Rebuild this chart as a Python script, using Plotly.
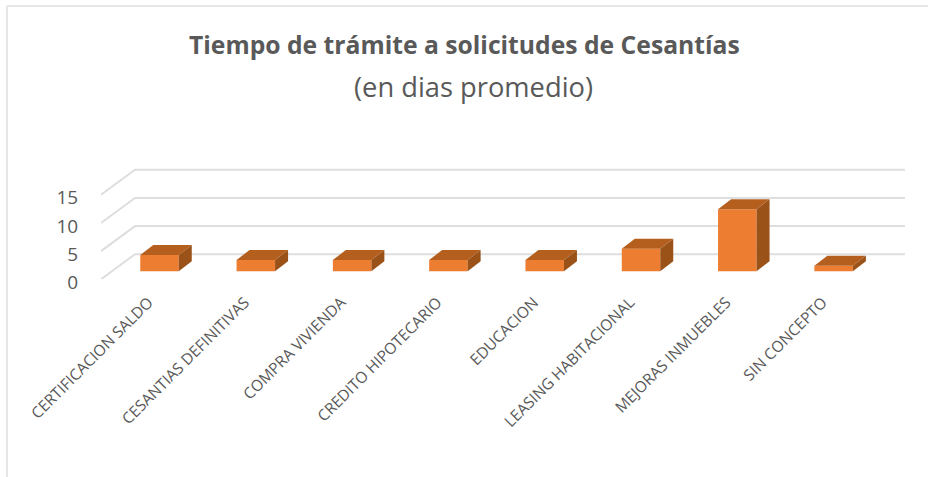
import plotly.graph_objects as go

categories = ["CERTIFICACION SALDO", "CESANTIAS DEFINITIVAS", "COMPRA VIVIENDA", "CREDITO HIPOTECARIO",
              "EDUCACION", "LEASING HABITACIONAL", "MEJORAS INMUEBLES", "SIN CONCEPTO"]
values = [2.9, 2, 2, 2, 2, 4, 11, 1]
y_ticks = [0, 5, 10, 15]

W, H = 928, 477
X0_PX, STEP_PX = 159.5, 96.3          # category 0 centre, category spacing
LEFT, RIGHT, BOTTOM, TOP = 101, 905, 279.3, 160
PX_PER_UNIT = 5.64
x_range = [(LEFT - X0_PX) / STEP_PX, (RIGHT - X0_PX) / STEP_PX]
y_range = [0, (BOTTOM - TOP) / PX_PER_UNIT]

BAR_W = 38.5 / STEP_PX
FLOOR_DX, FLOOR_DY = 34 / STEP_PX, 25 / PX_PER_UNIT   # oblique floor depth
BASE_DY = 8 / PX_PER_UNIT                              # bar base offset into floor
BAR_DX, BAR_DY = 13 / STEP_PX, 10 / PX_PER_UNIT        # bar depth

FRONT, TOPC, SIDE = "#ED7D31", "#B55F1E", "#9A5219"
GRID = "#DEDEDE"
TEXT = "#595959"
FONT = "Open Sans"

fig = go.Figure()

# front faces
fig.add_trace(go.Bar(x=list(range(len(values))), y=values, base=[BASE_DY] * len(values), width=BAR_W,
                     marker=dict(color=FRONT, line=dict(width=0)), hoverinfo="skip", showlegend=False))

# top and side faces
for i, v in enumerate(values):
    l, r = i - BAR_W / 2, i + BAR_W / 2
    b, t = BASE_DY, BASE_DY + v
    fig.add_trace(go.Scatter(x=[l, r, r + BAR_DX, l + BAR_DX, l], y=[t, t, t + BAR_DY, t + BAR_DY, t],
                             mode="lines", fill="toself", fillcolor=TOPC, line=dict(width=0),
                             hoverinfo="skip", showlegend=False))
    fig.add_trace(go.Scatter(x=[r, r + BAR_DX, r + BAR_DX, r, r], y=[b, b + BAR_DY, t + BAR_DY, t, b],
                             mode="lines", fill="toself", fillcolor=SIDE, line=dict(width=0),
                             hoverinfo="skip", showlegend=False))

# gridlines running along the floor side and back wall
shapes = []
for v in y_ticks:
    shapes.append(dict(type="path", xref="x", yref="y", layer="below",
                       path=f"M {x_range[0]} {v} L {x_range[0] + FLOOR_DX} {v + FLOOR_DY} L {x_range[1]} {v + FLOOR_DY}",
                       line=dict(color=GRID, width=2)))
# chart frame
shapes.append(dict(type="line", xref="paper", yref="paper", x0=7 / W, x1=7 / W, y0=0, y1=1 - 6 / H,
                   line=dict(color=GRID, width=1.5)))
shapes.append(dict(type="line", xref="paper", yref="paper", x0=7 / W, x1=1, y0=1 - 6 / H, y1=1 - 6 / H,
                   line=dict(color=GRID, width=1.5)))

fig.update_layout(
    template="none",
    width=W, height=H, margin=dict(l=0, r=0, t=0, b=0, autoexpand=False),
    paper_bgcolor="white", plot_bgcolor="rgba(0,0,0,0)",
    shapes=shapes, showlegend=False,
    xaxis=dict(domain=[LEFT / W, RIGHT / W], range=x_range, tickmode="array", automargin=False,
               tickvals=list(range(len(categories))), ticktext=categories, tickangle=-45,
               showgrid=False, zeroline=False, showline=False, ticks="outside", ticklen=7,
               ticklabelshift=-11,
               tickcolor="rgba(0,0,0,0)", tickfont=dict(family=FONT, size=15.5, color=TEXT)),
    yaxis=dict(domain=[1 - BOTTOM / H, 1 - TOP / H], range=y_range, tickmode="array", tickvals=y_ticks,
               automargin=False, ticklabelshift=3,
               showgrid=False, zeroline=False, showline=False, ticks="outside", ticklen=18,
               tickcolor="rgba(0,0,0,0)", tickfont=dict(family=FONT, size=19, color=TEXT)),
    annotations=[
        dict(text="<b>Tiempo de trámite a solicitudes de Cesantías</b>", xref="paper", yref="paper",
             x=464.5 / W, y=1 - 45 / H, showarrow=False, xanchor="center", yanchor="middle",
             font=dict(family=FONT, size=24.7, color=TEXT)),
        dict(text="(en dias promedio)", xref="paper", yref="paper",
             x=473.5 / W, y=1 - 86 / H, showarrow=False, xanchor="center", yanchor="middle",
             font=dict(family=FONT, size=27.3, color=TEXT)),
    ],
)

fig.write_html("out.html", post_script="document.body.style.margin='0';",
               config={"displayModeBar": False})
